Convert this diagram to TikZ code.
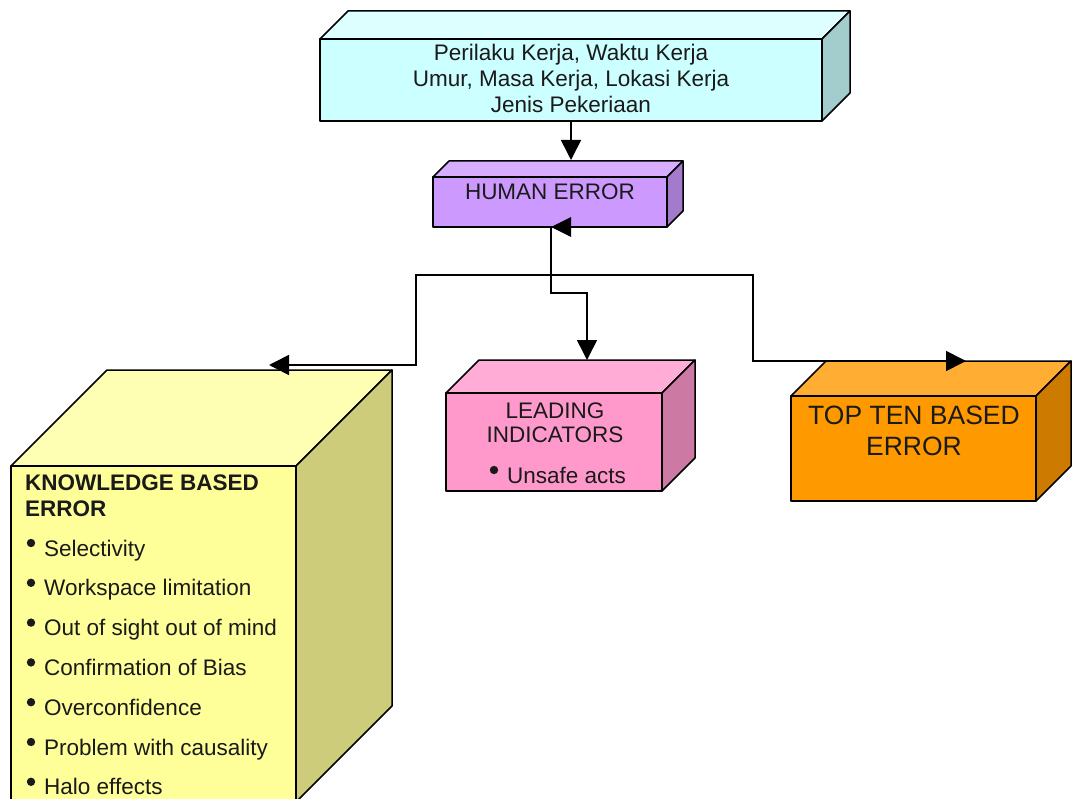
\documentclass[tikz,border=0pt]{standalone}
\usepackage{fontspec}
\setmainfont{Liberation Sans}
\usetikzlibrary{arrows.meta}
\definecolor{cyanfront}{HTML}{CCFFFF}
\definecolor{cyantop}{HTML}{DDFFFF}
\definecolor{cyanside}{HTML}{A3CCCC}
\definecolor{purpfront}{HTML}{CC99FF}
\definecolor{purptop}{HTML}{D6ADFF}
\definecolor{purpside}{HTML}{A37ACC}
\definecolor{pinkfront}{HTML}{FF99CC}
\definecolor{pinktop}{HTML}{FFADD6}
\definecolor{pinkside}{HTML}{CC7AA3}
\definecolor{orgfront}{HTML}{FF9900}
\definecolor{orgtop}{HTML}{FFAD33}
\definecolor{orgside}{HTML}{CC7A00}
\definecolor{yelfront}{HTML}{FFFF99}
\definecolor{yeltop}{HTML}{FFFFB3}
\definecolor{yelside}{HTML}{CCCC7A}
\definecolor{ink}{HTML}{1A1A1A}
\tikzset{
  face/.style={draw=black, line width=1.5pt, line join=round},
  txt/.style={inner sep=0pt, anchor=base, text=ink, font=\fontsize{22.5}{26}\selectfont},
  bigtxt/.style={txt, font=\fontsize{26.5}{30}\selectfont},
  boldtxt/.style={txt, anchor=base west, font=\fontsize{22.5}{26}\selectfont\bfseries},
  itemtxt/.style={txt, anchor=base west},
  conn/.style={draw=black, line width=1.6pt},
  arr/.style={conn, -{Triangle[length=20pt,width=20pt]}},
  bul/.style={fill=ink},
}
% #1 colour prefix / node name, #2 x1, #3 y1, #4 x2, #5 y2, #6 depth
\newcommand{\mycube}[6]{%
  \filldraw[face, fill=#1top] (#2,#3) -- ++(#6,-#6) -- (#4+#6,#3-#6) -- (#4,#3) -- cycle;
  \filldraw[face, fill=#1side] (#4,#3) -- (#4+#6,#3-#6) -- (#4+#6,#5-#6) -- (#4,#5) -- cycle;
  \node[face, fill=#1front, anchor=north west, inner sep=0pt, outer sep=0pt,
        minimum width={(#4-#2)*1pt}, minimum height={(#5-#3)*1pt}] (#1) at (#2,#3) {};
}
\begin{document}
\begin{tikzpicture}[x=1pt, y=-1pt]
\useasboundingbox (0,0) rectangle (1075,799);
\clip (0,0) rectangle (1075,799);
\fill[white] (0,0) rectangle (1075,799);

% cubes
\mycube{cyan}{320}{39}{822}{121}{28}
\mycube{purp}{433}{177}{667}{227}{16}
\mycube{yel}{11}{466}{296}{802}{96}
\mycube{pink}{446}{393}{662}{491}{33}
\mycube{org}{791}{396}{1036}{501}{35}

% texts
\node[txt] (c1) at (571,61) {Perilaku Kerja, Waktu Kerja};
\node[txt] (c2) at (571,87) {Umur, Masa Kerja, Lokasi Kerja};
\node[txt] (c3) at (571,113) {Jenis Pekeriaan};

\node[txt] (he) at (550,200) {HUMAN ERROR};

\node[txt] (l1) at (555,418) {LEADING};
\node[txt] (l2) at (555,442) {INDICATORS};
\fill[bul] (494,470) circle (4.2);
\node[itemtxt] (l3) at (507,483) {Unsafe acts};

\node[bigtxt] (t1) at (914,424) {TOP TEN BASED};
\node[bigtxt] (t2) at (914,455) {ERROR};

\node[boldtxt] (k1) at (25,490) {KNOWLEDGE BASED};
\node[boldtxt] (k2) at (25,516) {ERROR};
\foreach \t [count=\i from 0] in {Selectivity, Workspace limitation, Out of sight out of mind,
   Confirmation of Bias, Overconfidence, Problem with causality, Halo effects}{
  \fill[bul] (31,{543+\i*39.8}) circle (4.2);
  \node[itemtxt] (k\i-item) at (44,{556+\i*39.8}) {\t};
}

% connectors
\coordinate (hetop) at (571,160);
\coordinate (hebot) at (551,227);
\coordinate (jn) at (551,275);
\coordinate (jp) at (551,293);
\coordinate (pinkin) at (587,360);
\coordinate (orgin) at (966,361);
\coordinate (yelin) at (269,365);

\draw[arr] (cyan.south -| hetop) -- (hetop);
\fill[black] (hebot) -- ++(20,-10) -- ++(0,20) -- cycle;
\draw[arr] (hebot) -- (jp) -| (pinkin);
\draw[arr] (jn) -| (416,365) -- (yelin);
\draw[arr] (jn) -| (753,361) -- (orgin);
\end{tikzpicture}
\end{document}
